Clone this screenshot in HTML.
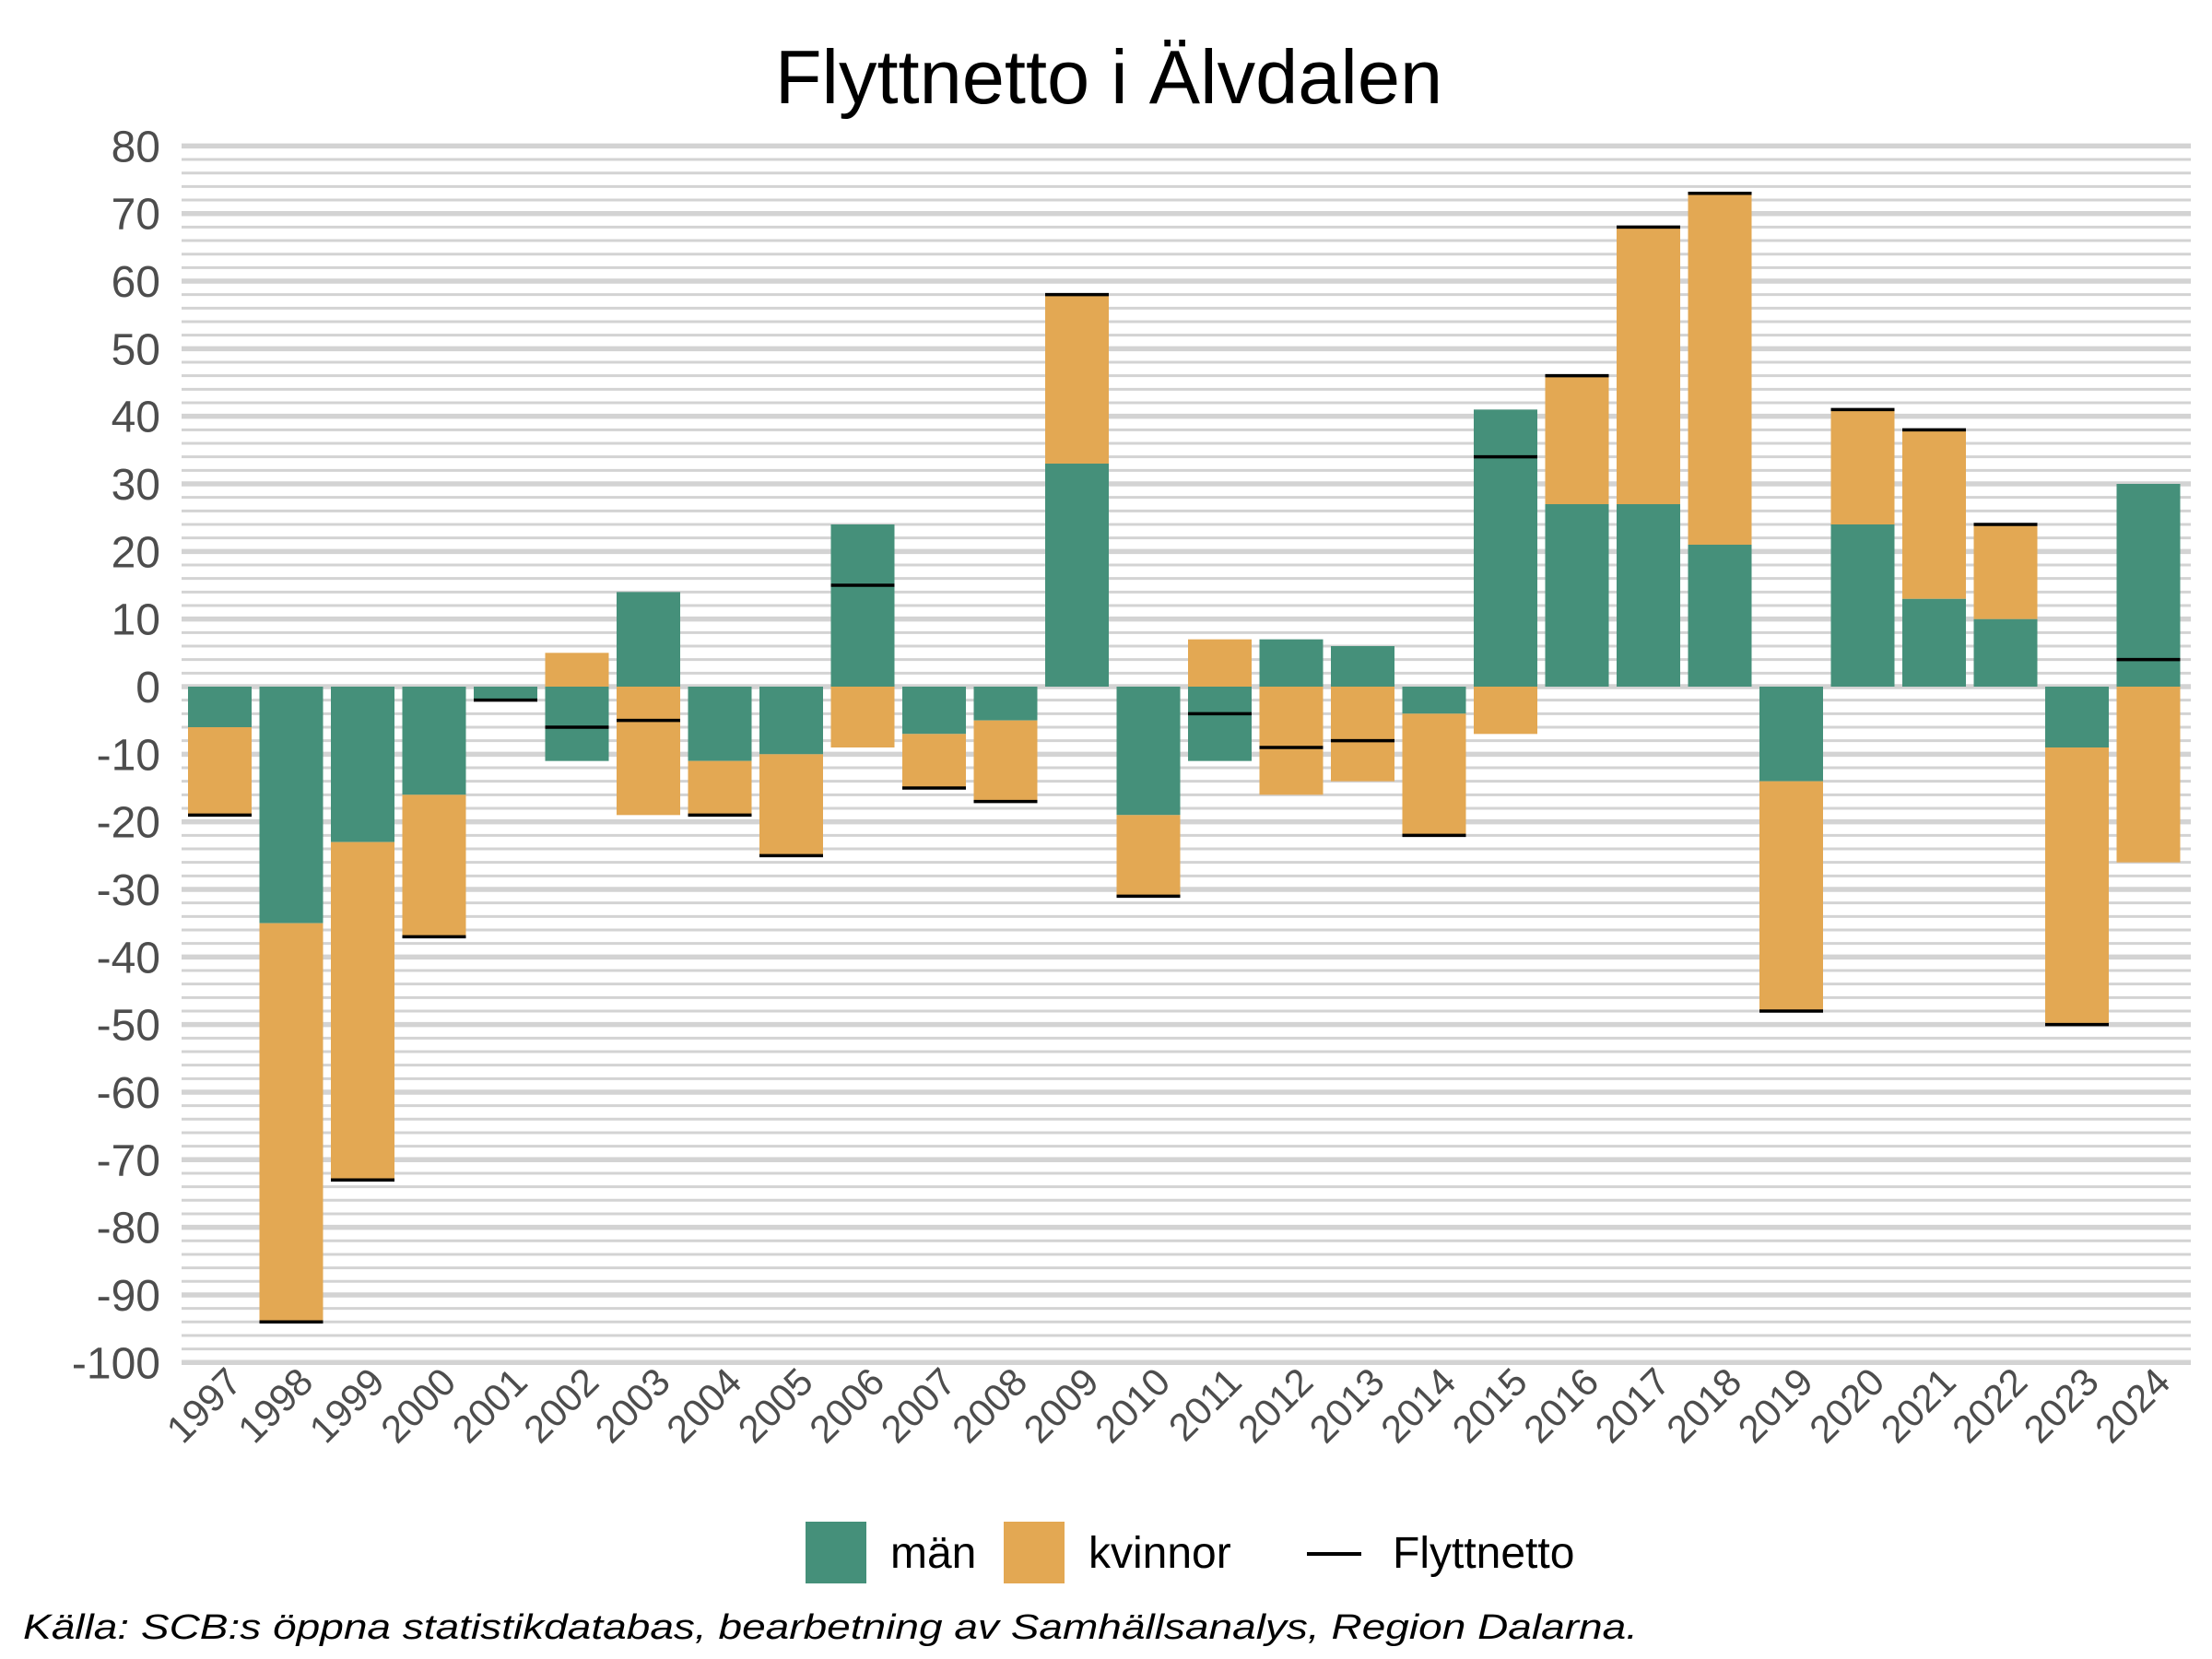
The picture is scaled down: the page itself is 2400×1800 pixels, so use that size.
<!DOCTYPE html>
<html><head><meta charset="utf-8"><style>
html,body{margin:0;padding:0;background:#fff}
svg{display:block}
text{font-family:"Liberation Sans",sans-serif}
</style></head><body>
<svg id="chart" width="2400" height="1800" viewBox="0 0 2400 1800" xmlns="http://www.w3.org/2000/svg">
<text x="1203" y="112" font-size="83" text-anchor="middle" fill="#000">Flyttnetto i Älvdalen</text>
<g id="grid"></g>
<g id="yaxis"></g>
<g id="bars"></g>
<g id="xaxis"></g>
<g>
<rect x="874" y="1651" width="66" height="67" fill="#45907a"/>
<text x="966" y="1701" font-size="48" fill="#000">män</text>
<rect x="1089" y="1651" width="66" height="67" fill="#e3a853"/>
<text x="1181" y="1701" font-size="48" fill="#000">kvinnor</text>
<line x1="1418" y1="1686" x2="1477" y2="1686" stroke="#000" stroke-width="4"/>
<text x="1511" y="1701" font-size="48" fill="#000">Flyttnetto</text>
</g>
<text x="25" y="1778" font-size="38" font-style="italic" fill="#000" textLength="1752" lengthAdjust="spacingAndGlyphs">Källa: SCB:s öppna statistikdatabas, bearbetning av Samhällsanalys, Region Dalarna.</text>
</svg>
<script>
const years = [1997,1998,1999,2000,2001,2002,2003,2004,2005,2006,2007,2008,2009,2010,2011,2012,2013,2014,2015,2016,2017,2018,2019,2020,2021,2022,2023,2024];
const man = [-6,-35,-23,-16,-2,-11,14,-11,-10,24,-7,-5,33,-19,-11,7,6,-4,41,27,27,21,-14,24,13,10,-9,30];
const kvinnor = [-13,-59,-50,-21,0,5,-19,-8,-15,-9,-8,-12,25,-12,7,-16,-14,-18,-7,19,41,52,-34,17,25,14,-41,-26];
const netto = [-19,-94,-73,-37,-2,-6,-5,-19,-25,15,-15,-17,58,-31,-4,-9,-8,-22,34,46,68,73,-48,41,38,24,-50,4];
const yTicks = [80,70,60,50,40,30,20,10,0,-10,-20,-30,-40,-50,-60,-70,-80,-90,-100];

const NS = "http://www.w3.org/2000/svg";
const X0 = 197, X1 = 2377;
function yScale(v){ return 745 - 7.333 * v; }
function xCenter(i){ return 238.5 + 77.5 * i; }
const BW = 69;
function mk(tag, attrs, parent){
  const el = document.createElementNS(NS, tag);
  for (const k in attrs) el.setAttribute(k, attrs[k]);
  parent.appendChild(el);
  return el;
}
const grid = document.getElementById('grid');
for (let v = -100; v <= 80; v += 2) {
  const major = v % 10 === 0;
  const ln = mk('line', {x1:X0, x2:X1, y1:yScale(v), y2:yScale(v), stroke:'#d3d3d3', 'stroke-width': major ? 5.5 : 3}, grid);
  
  
}
const yaxis = document.getElementById('yaxis');
yTicks.forEach(v => {
  const t = mk('text', {x:174, y:yScale(v) + 17, 'font-size':48, 'text-anchor':'end', fill:'#4d4d4d'}, yaxis);
  t.textContent = String(v);
  
  
});
const bars = document.getElementById('bars');
years.forEach((yr, i) => {
  const cx = xCenter(i), x = cx - BW/2;
  const m = man[i], k = kvinnor[i];
  const mTop = Math.max(0, m), mBot = Math.min(0, m);
  const r1 = mk('rect', {x:x, width:BW, y:yScale(mTop), height:Math.abs(yScale(mBot)-yScale(mTop)), fill:'#45907a'}, bars);
  
  
  let base = (k >= 0) === (m >= 0) && m !== 0 ? m : 0;
  const a = base, b = base + k;
  const r2 = mk('rect', {x:x, width:BW, y:yScale(Math.max(a,b)), height:Math.abs(yScale(a)-yScale(b)), fill:'#e3a853'}, bars);
  
  
  const l = mk('line', {x1:x, x2:x+BW, y1:yScale(netto[i]), y2:yScale(netto[i]), stroke:'#000', 'stroke-width':3.5}, bars);
  
  
});
const xaxis = document.getElementById('xaxis');
years.forEach((yr, i) => {
  const tx = xCenter(i) + 26, ty = 1502;
  const t = mk('text', {x:tx, y:ty, 'font-size':42, 'text-anchor':'end', fill:'#4d4d4d', transform:'rotate(-45 ' + tx + ' ' + ty + ')'}, xaxis);
  t.textContent = String(yr);
  
  
});
</script>
</body></html>
